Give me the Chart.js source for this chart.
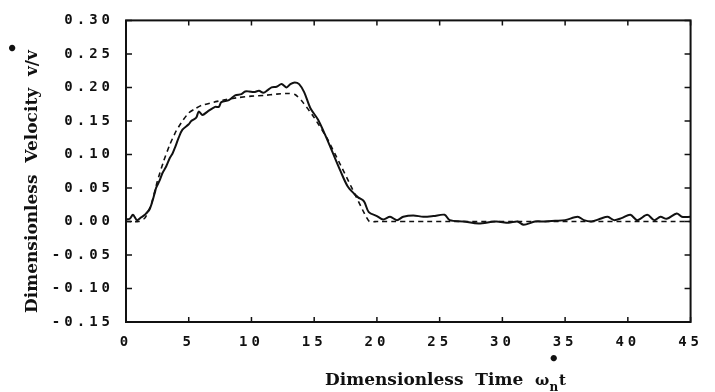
<!DOCTYPE html>
<html>
<head>
<meta charset="utf-8">
<title>Dimensionless velocity vs time</title>
<script src="https://cdn.jsdelivr.net/npm/chart.js@4.4.1/dist/chart.umd.min.js"></script>
<style>
  html, body { margin: 0; padding: 0; background: #fff; }
  canvas { display: block; }
</style>
</head>
<body>
<canvas id="velChart" width="715" height="392"></canvas>
<script>
// measured response (solid, noisy)
const timeMeasured = [0, 0.3, 0.55, 0.87, 1.2, 1.5, 1.9, 2.3, 2.4, 2.7, 2.9, 3.2, 3.5, 3.7, 3.9, 4.2, 4.5, 5.0, 5.2, 5.6,
  5.8, 6.1, 6.5, 7.1, 7.4, 7.6, 8.2, 8.7, 9.2, 9.5, 9.8, 10.2, 10.6, 10.95, 11.3, 11.6, 12.0, 12.4, 12.8, 13.1,
  13.45, 13.8, 14.2, 14.7, 15.3, 15.9, 16.6, 17.1, 17.65, 18.2, 18.5, 18.97, 19.35, 20.0, 20.5, 21.05, 21.6, 22.1, 22.9, 23.7,
  24.5, 25.4, 25.8, 26.9, 28.1, 29.5, 30.5, 31.2, 31.7, 32.6, 33.4, 34.2, 35.0, 36.0, 36.5, 37.1, 37.8, 38.4, 38.9, 39.5,
  40.2, 40.75, 41.55, 42.1, 42.6, 43.1, 43.9, 44.3, 45];
const velMeasured = [0.003, 0.004, 0.010, 0.002, 0.006, 0.010, 0.019, 0.043, 0.050, 0.062, 0.072, 0.082, 0.095, 0.101, 0.110, 0.125, 0.137, 0.145, 0.150, 0.155,
  0.164, 0.159, 0.164, 0.171, 0.171, 0.178, 0.181, 0.188, 0.190, 0.194, 0.194, 0.193, 0.195, 0.192, 0.196, 0.200, 0.201, 0.205, 0.200, 0.205,
  0.2075, 0.205, 0.193, 0.169, 0.152, 0.128, 0.097, 0.075, 0.053, 0.041, 0.036, 0.030, 0.014, 0.008, 0.003, 0.007, 0.002, 0.007, 0.009, 0.007,
  0.008, 0.010, 0.002, 0.000, -0.003, 0.000, -0.002, 0.000, -0.005, 0.000, 0.000, 0.001, 0.002, 0.007, 0.002, 0.000, 0.004, 0.007, 0.002, 0.005,
  0.010, 0.002, 0.010, 0.002, 0.007, 0.004, 0.012, 0.007, 0.007];

// predicted response (dashed)
const timePredicted = [0, 1.0, 1.5, 2.0, 2.5, 3.0, 3.5, 4.0, 4.5, 5.0, 5.5, 6.0, 7.0, 8.0, 9.0, 10.0, 11.0, 12.0, 13.0, 13.5,
  14.0, 14.5, 15.0, 16.0, 17.0, 18.0, 19.0, 19.4, 20.0, 45];
const velPredicted = [0, 0, 0.005, 0.025, 0.060, 0.090, 0.115, 0.135, 0.150, 0.162, 0.168, 0.173, 0.178, 0.182, 0.185, 0.187, 0.188, 0.190, 0.191, 0.189,
  0.180, 0.168, 0.155, 0.125, 0.088, 0.050, 0.012, 0, 0, 0];

const xTicks = [0, 5, 10, 15, 20, 25, 30, 35, 40, 45];
const yTickMin = -0.15, yTickMax = 0.30, yTickStep = 0.05;

const xTitle = 'Dimensionless  Time  ';
const yTitle = 'Dimensionless  Velocity  v/v';

const pts = (xs, ys) => xs.map((x, i) => ({ x: x, y: ys[i] }));

// wide spacing for the typewriter-like tick digits
const spacingPlugin = {
  id: 'spacing',
  beforeUpdate(chart) { chart.ctx.letterSpacing = '4px'; },
  beforeDraw(chart) { chart.ctx.letterSpacing = '4px'; }
};

// closed frame with inward ticks on all four sides, plus axis titles
const framePlugin = {
  id: 'frame',
  afterDraw(chart) {
    const ctx = chart.ctx;
    const { left, right, top, bottom } = chart.chartArea;
    const xs = chart.scales.x, ys = chart.scales.y;
    ctx.save();
    ctx.letterSpacing = '0px';
    ctx.strokeStyle = '#111';
    ctx.lineWidth = 2;
    ctx.strokeRect(left, top, right - left, bottom - top);
    ctx.lineWidth = 1.5;
    ctx.beginPath();
    xs.ticks.forEach(t => {
      const px = xs.getPixelForValue(t.value);
      ctx.moveTo(px, bottom); ctx.lineTo(px, bottom - 5);
      ctx.moveTo(px, top); ctx.lineTo(px, top + 5);
    });
    ys.ticks.forEach(t => {
      const py = ys.getPixelForValue(t.value);
      ctx.moveTo(left, py); ctx.lineTo(left + 6, py);
      ctx.moveTo(right, py); ctx.lineTo(right - 6, py);
    });
    ctx.stroke();

    ctx.fillStyle = '#111';
    ctx.textAlign = 'left';
    ctx.textBaseline = 'alphabetic';

    // x title: Dimensionless Time ω_n• t
    ctx.font = 'bold 17px "DejaVu Serif"';
    let x = 325;
    const base = 385;
    ctx.fillText(xTitle, x, base);
    x += ctx.measureText(xTitle).width;
    ctx.font = 'bold 15px "DejaVu Serif"';
    ctx.fillText('ω', x, base);
    x += ctx.measureText('ω').width;
    ctx.font = 'bold 12px "DejaVu Serif"';
    ctx.fillText('n', x, base + 6);
    const nw = ctx.measureText('n').width;
    ctx.font = 'bold 18px "DejaVu Sans"';
    ctx.textAlign = 'center';
    ctx.fillText('•', x + nw / 2, base - 20);
    ctx.textAlign = 'left';
    x += nw + 1;
    ctx.font = 'bold 15px "DejaVu Serif"';
    ctx.fillText('t', x, base);

    // y title, rotated
    ctx.save();
    ctx.translate(37, 313);
    ctx.rotate(-Math.PI / 2);
    ctx.font = 'bold 17px "DejaVu Serif"';
    ctx.fillText(yTitle, 0, 0);
    const w = ctx.measureText(yTitle).width;
    ctx.font = 'bold 18px "DejaVu Sans"';
    ctx.textAlign = 'center';
    ctx.fillText('•', w + 2, -18);
    ctx.restore();

    ctx.restore();
  }
};

const tickFont = { family: '"DejaVu Sans Mono"', size: 14, weight: 'bold' };

new Chart(document.getElementById('velChart'), {
  type: 'line',
  data: {
    datasets: [
      {
        label: 'measured',
        data: pts(timeMeasured, velMeasured),
        borderColor: '#111',
        borderWidth: 2,
        pointRadius: 0,
        tension: 0.3,
        fill: false
      },
      {
        label: 'predicted',
        data: pts(timePredicted, velPredicted),
        borderColor: '#111',
        borderWidth: 1.6,
        borderDash: [5, 4],
        pointRadius: 0,
        tension: 0.2,
        fill: false
      }
    ]
  },
  options: {
    responsive: false,
    animation: false,
    devicePixelRatio: 1,
    layout: { padding: { top: 13, right: 18, left: 0, bottom: 0 } },
    plugins: { legend: { display: false }, tooltip: { enabled: false } },
    scales: {
      x: {
        type: 'linear',
        min: 0, max: 45,
        afterBuildTicks(scale) { scale.ticks = xTicks.map(v => ({ value: v })); },
        afterFit(scale) { scale.height = 70; },
        grid: { display: false, drawTicks: false },
        border: { display: false },
        ticks: {
          font: tickFont, color: '#111', padding: 12, maxRotation: 0,
          callback: v => String(v)
        }
      },
      y: {
        type: 'linear',
        min: yTickMin, max: yTickMax,
        afterFit(scale) { scale.width = 126; },
        grid: { display: false, drawTicks: false },
        border: { display: false },
        ticks: {
          font: tickFont, color: '#111', padding: 12, stepSize: yTickStep,
          callback: v => (Math.abs(v) < 1e-9 ? 0 : v).toFixed(2)
        }
      }
    }
  },
  plugins: [spacingPlugin, framePlugin]
});
</script>
</body>
</html>
